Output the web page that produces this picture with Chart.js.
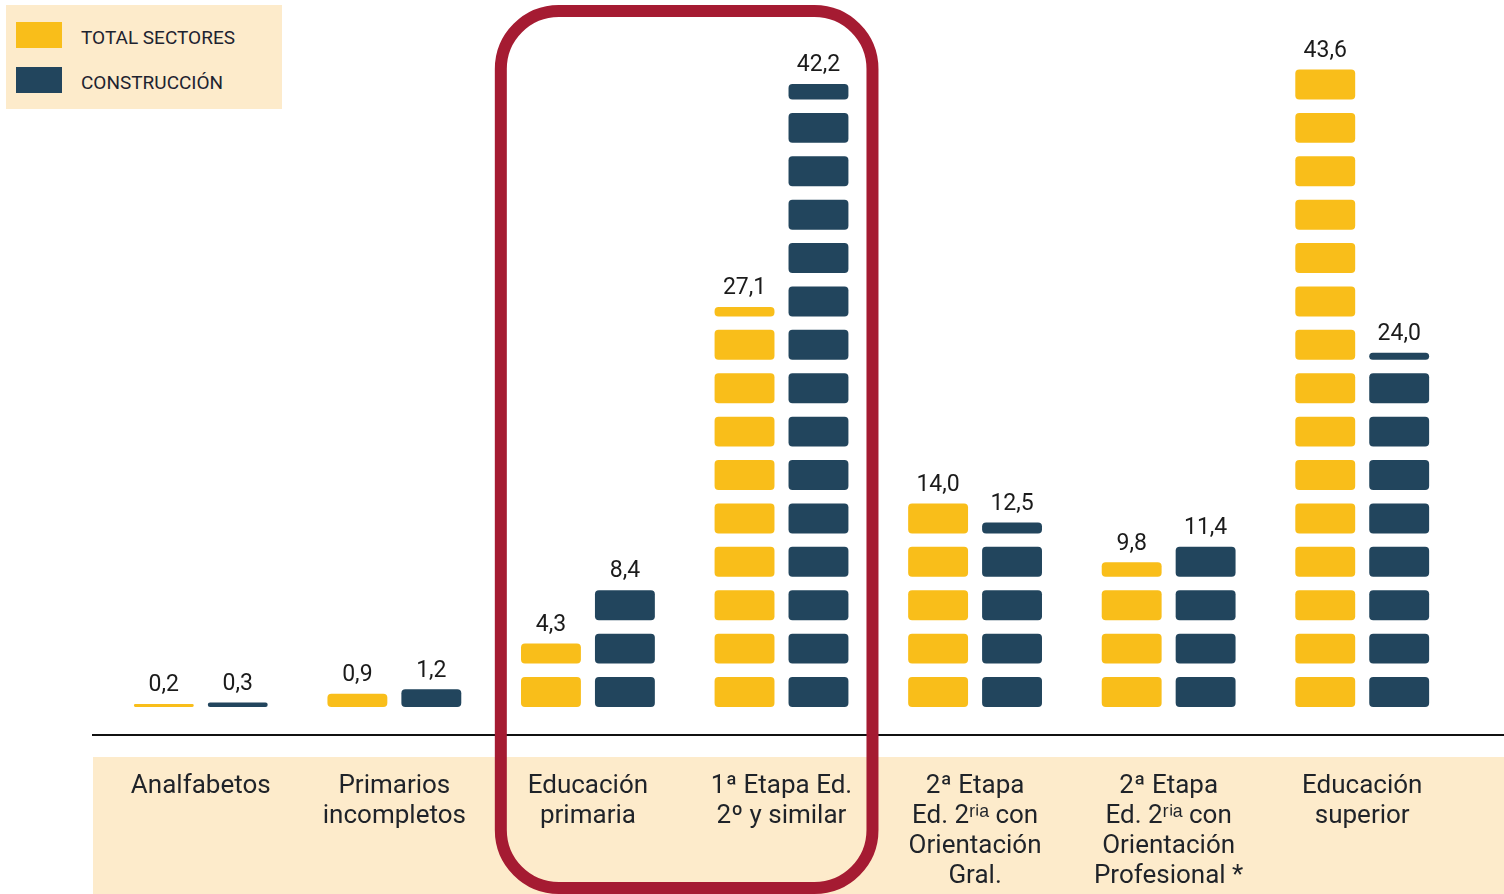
<!DOCTYPE html>
<html>
<head>
<meta charset="utf-8">
<script src="https://cdn.jsdelivr.net/npm/chart.js@4.4.1/dist/chart.umd.min.js"></script>
<style>
  body { margin: 0; background: #fff; }
  #wrap { position: relative; width: 1504px; height: 894px; }
  #legend {
    position: absolute; left: 6px; top: 5px; width: 276px; height: 104px;
    background: #fdebcb; font-family: Roboto, sans-serif; font-size: 19px; color: #1d2330;
  }
  #legend .sw { position: absolute; left: 10px; width: 46px; height: 26px; }
  #legend .txt { position: absolute; left: 75px; line-height: 26px; }
</style>
</head>
<body>
<div id="wrap">
  <canvas id="chart" width="1504" height="894"></canvas>
  <div id="legend">
    <span class="sw" style="top:17px;background:#f9be1a"></span>
    <span class="txt" style="top:20px">TOTAL SECTORES</span>
    <span class="sw" style="top:62px;background:#22455d"></span>
    <span class="txt" style="top:65px">CONSTRUCCIÓN</span>
  </div>
</div>
<script>
const categories = [
  ["Analfabetos"],
  ["Primarios", "incompletos"],
  ["Educación", "primaria"],
  ["1ª Etapa Ed.", "2º y similar"],
  ["2ª Etapa", "Ed. 2ʳⁱᵃ con", "Orientación", "Gral."],
  ["2ª Etapa", "Ed. 2ʳⁱᵃ con", "Orientación", "Profesional *"],
  ["Educación", "superior"],
];
const totalSectores = [0.2, 0.9, 4.3, 27.1, 14.0, 9.8, 43.6];
const construccion = [0.3, 1.2, 8.4, 42.2, 12.5, 11.4, 24.0];

const YELLOW = "#f9be1a";
const NAVY = "#22455d";
// each block stands for ~3 points, drawn with a gap on top
const BLOCK_STEP = 2.94;
const BLOCK_FILL = 2.03;

function blockDatasets(values, color, stack, series) {
  const n = Math.ceil(Math.max(...values) / BLOCK_STEP);
  const sets = [];
  for (let k = 0; k < n; k++) {
    const lo = k * BLOCK_STEP;
    sets.push({
      label: stack + k,
      stack: stack,
      series: series,
      backgroundColor: color,
      borderRadius: 4,
      borderSkipped: false,
      data: values.map((v) => (v > lo ? [lo, Math.min(lo + BLOCK_FILL, v)] : null)),
    });
  }
  return sets;
}

const seriesValues = [totalSectores, construccion];

const backdrop = {
  id: "backdrop",
  beforeDraw(chart) {
    const ctx = chart.ctx;
    ctx.save();
    ctx.fillStyle = "#fff";
    ctx.fillRect(0, 0, chart.width, chart.height);
    ctx.fillStyle = "#fdebcb";
    ctx.fillRect(93, 757, chart.width - 93, chart.height - 757);
    ctx.strokeStyle = "#111";
    ctx.lineWidth = 2;
    ctx.beginPath();
    ctx.moveTo(92, 735);
    ctx.lineTo(chart.width, 735);
    ctx.stroke();
    ctx.restore();
  },
};

const valueLabels = {
  id: "valueLabels",
  afterDatasetsDraw(chart) {
    const ctx = chart.ctx;
    ctx.save();
    ctx.font = "23px Roboto, sans-serif";
    ctx.fillStyle = "#1b1b1b";
    ctx.textAlign = "center";
    ctx.textBaseline = "bottom";
    seriesValues.forEach((vals, s) => {
      vals.forEach((v, i) => {
        let top = null;
        chart.data.datasets.forEach((ds, di) => {
          if (ds.series === s && ds.data[i] !== null) top = chart.getDatasetMeta(di).data[i];
        });
        if (top) ctx.fillText(v.toFixed(1).replace(".", ","), top.x, top.y - 7);
      });
    });
    ctx.restore();
  },
};

const highlight = {
  id: "highlight",
  afterDraw(chart) {
    const x = chart.scales.x;
    const step = x.getPixelForValue(1) - x.getPixelForValue(0);
    const left = x.getPixelForValue(2) - step * 0.45;
    const right = x.getPixelForValue(3) + step * 0.47;
    const ctx = chart.ctx;
    ctx.save();
    ctx.strokeStyle = "#a51b32";
    ctx.lineWidth = 12;
    ctx.beginPath();
    ctx.roundRect(left, 11, right - left, 877, 58);
    ctx.stroke();
    ctx.restore();
  },
};

new Chart(document.getElementById("chart"), {
  type: "bar",
  data: {
    labels: categories,
    datasets: [
      ...blockDatasets(totalSectores, YELLOW, "total", 0),
      ...blockDatasets(construccion, NAVY, "constr", 1),
    ],
  },
  options: {
    responsive: false,
    animation: false,
    layout: { padding: { left: 104, right: 45, top: 28, bottom: 3 } },
    categoryPercentage: 0.764,
    barPercentage: 0.81,
    plugins: { legend: { display: false }, tooltip: { enabled: false } },
    scales: {
      x: {
        stacked: true,
        grid: { display: false, drawTicks: false },
        border: { display: false },
        afterFit: (scale) => { scale.height = 184; },
        ticks: {
          autoSkip: false,
          maxRotation: 0,
          padding: 64,
          color: "#1f2329",
          font: { family: "Roboto, sans-serif", size: 26, lineHeight: "30px" },
        },
      },
      y: { display: false, stacked: false, min: 0, max: 46 },
    },
  },
  plugins: [backdrop, valueLabels, highlight],
});
</script>
</body>
</html>
